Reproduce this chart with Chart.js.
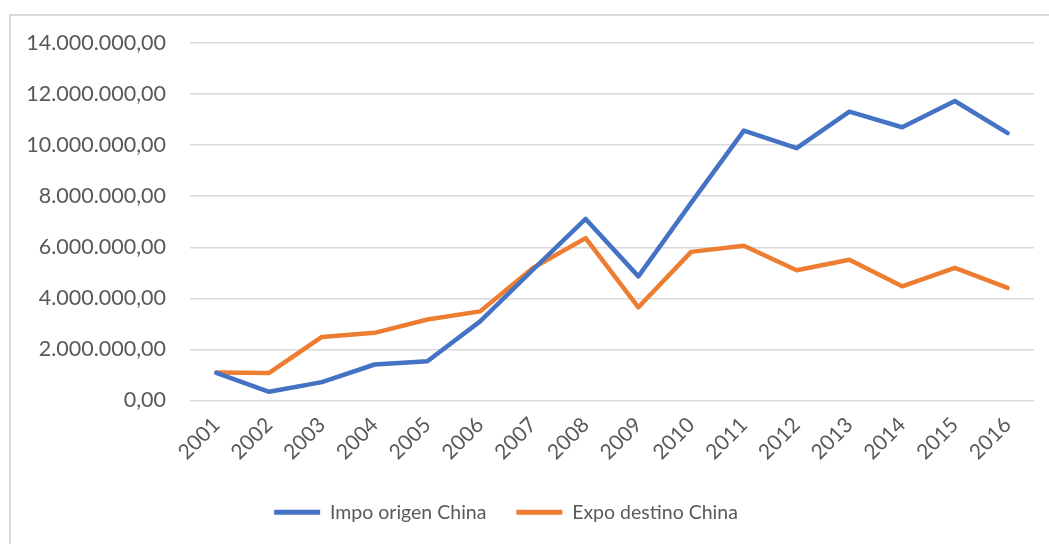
<!DOCTYPE html>
<html>
<head>
<meta charset="utf-8">
<script src="https://cdn.jsdelivr.net/npm/chart.js@4.4.0/dist/chart.umd.min.js"></script>
<style>
  html, body { margin: 0; padding: 0; background: #fff; }
  #wrap { position: relative; width: 1049px; height: 544px; overflow: hidden; }
  #frame { position: absolute; left: 9px; top: 14px; width: 1100px; height: 600px;
           border-left: 2px solid #d9d9d9; border-top: 2px solid #d9d9d9; }
  #chart { position: absolute; left: 0; top: 0; }
</style>
</head>
<body>
<div id="wrap">
  <div id="frame"></div>
  <canvas id="chart" width="1049" height="544"></canvas>
</div>
<script>
// 年（カテゴリ）
const years = ['2001', '2002', '2003', '2004', '2005', '2006', '2007', '2008',
               '2009', '2010', '2011', '2012', '2013', '2014', '2015', '2016'];

// 輸入（中国原産）
const impoOrigenChina = [1080000, 340000, 720000, 1410000, 1540000, 3100000, 5120000, 7110000,
                         4860000, 7740000, 10570000, 9880000, 11310000, 10700000, 11730000, 10470000];

// 輸出（中国向け）
const expoDestinoChina = [1100000, 1080000, 2490000, 2650000, 3170000, 3490000, 5190000, 6360000,
                          3650000, 5820000, 6060000, 5100000, 5510000, 4470000, 5190000, 4410000];

// Y軸の目盛り
const yTicks = [0, 2000000, 4000000, 6000000, 8000000, 10000000, 12000000, 14000000];

const FONT = 'Lato, "Noto Sans", sans-serif';
const TEXT = '#595959';

function fmt(v) {
  return v.toLocaleString('de-DE', { minimumFractionDigits: 2, maximumFractionDigits: 2 });
}

// 凡例を少し左へずらす
const legendShift = {
  id: 'legendShift',
  afterLayout: function(chart) {
    if (!chart.legend) return;
    chart.legend.left -= 11;
    chart.legend.right -= 11;
  }
};

const ctx = document.getElementById('chart').getContext('2d');
new Chart(ctx, {
  type: 'line',
  data: {
    labels: years,
    datasets: [
      {
        label           : 'Impo origen China',
        data            : impoOrigenChina,
        borderColor     : '#4472C4',
        backgroundColor : '#4472C4',
        borderWidth     : 4.5,
        pointRadius     : 0,
        tension         : 0,
        borderJoinStyle : 'round',
        borderCapStyle  : 'round'
      },
      {
        label           : 'Expo destino China',
        data            : expoDestinoChina,
        borderColor     : '#ED7D31',
        backgroundColor : '#ED7D31',
        borderWidth     : 4.5,
        pointRadius     : 0,
        tension         : 0,
        borderJoinStyle : 'round',
        borderCapStyle  : 'round'
      }
    ]
  },
  plugins: [legendShift],
  options: {
    responsive: false,
    animation: false,
    layout: { padding: { left: 0, right: 15, top: 43, bottom: 12 } },
    plugins: {
      tooltip: { enabled: false },
      legend: {
        position: 'bottom',
        labels: {
          color: TEXT,
          font: { family: FONT, size: 19.5 },
          boxWidth: 46,
          boxHeight: 5,
          useBorderRadius: true,
          borderRadius: 2.5,
          padding: 30,
          generateLabels: function(chart) {
            return chart.data.datasets.map(function(ds, i) {
              return {
                text: ds.label,
                fillStyle: ds.borderColor,
                strokeStyle: ds.borderColor,
                lineWidth: 0,
                fontColor: TEXT,
                datasetIndex: i
              };
            });
          }
        }
      }
    },
    scales: {
      x: {
        offset: true,
        grid: { display: false, drawTicks: false },
        border: { display: false },
        ticks: {
          color: TEXT,
          font: { family: FONT, size: 21 },
          minRotation: 45,
          maxRotation: 45,
          padding: 12,
          autoSkip: false
        },
        afterFit: function(scale) { scale.height = 72; }
      },
      y: {
        min: 0,
        max: 14000000,
        grid: { color: '#d9d9d9', lineWidth: 1.5, drawTicks: false },
        border: { display: false },
        afterBuildTicks: function(scale) {
          scale.ticks = yTicks.map(function(v) { return { value: v }; });
        },
        ticks: {
          color: TEXT,
          font: { family: FONT, size: 21.5 },
          padding: 24,
          callback: function(v) { return fmt(v); }
        },
        afterFit: function(scale) { scale.width = 190; }
      }
    }
  }
});
</script>
</body>
</html>
